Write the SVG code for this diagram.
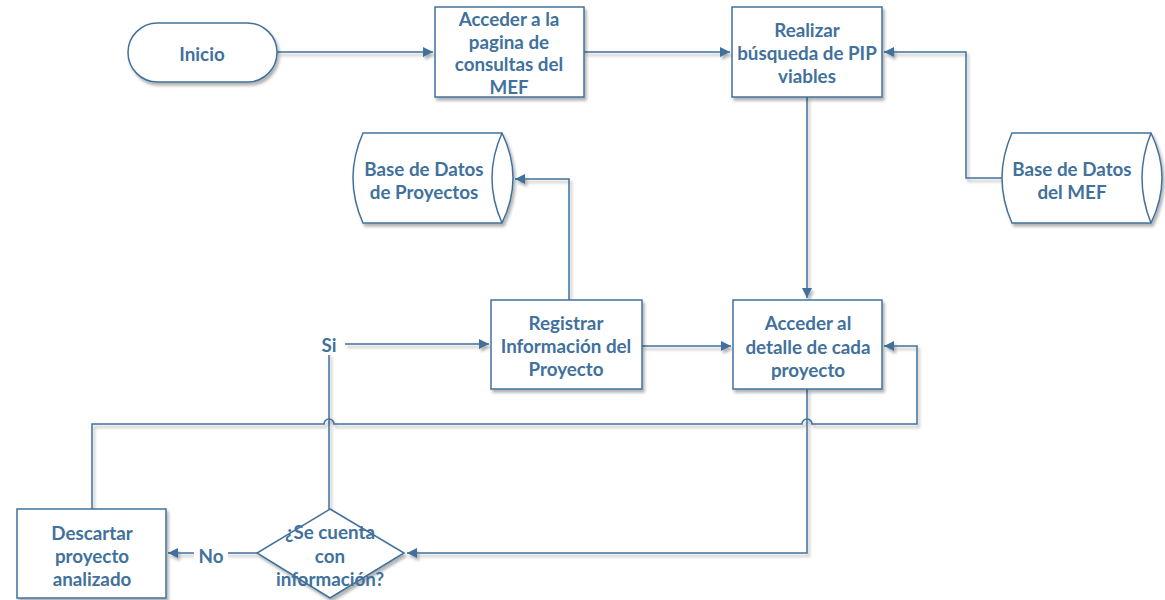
<svg xmlns="http://www.w3.org/2000/svg" width="1165" height="600" viewBox="0 0 1165 600">
<defs>
<filter id="sh" filterUnits="userSpaceOnUse" x="0" y="0" width="1165" height="600">
<feDropShadow dx="2" dy="3" stdDeviation="1.5" flood-color="#000" flood-opacity="0.3"/>
</filter>
<marker id="arr" viewBox="0 0 10 10" refX="10" refY="5" markerWidth="10" markerHeight="10" markerUnits="userSpaceOnUse" orient="auto">
<path d="M0,0 L10,5 L0,10 Z" fill="#41719C"/>
</marker>
<style>
.n{fill:#fff;stroke:#41719C;stroke-width:1.5;filter:url(#sh)}
.t{font-family:Lato,"Open Sans",sans-serif;font-weight:bold;font-size:18.8px;fill:#41719C;text-anchor:middle;dominant-baseline:central}
.c{fill:none;stroke:#41719C;stroke-width:1.5;filter:url(#sh)}
</style>
</defs>
<g id="connectors">
<path class="c" d="M277,52 H433" marker-end="url(#arr)"/>
<path class="c" d="M584,52 H730" marker-end="url(#arr)"/>
<path class="c" d="M1002,178 H966 V52 H884" marker-end="url(#arr)"/>
<path class="c" d="M807,97 V298" marker-end="url(#arr)"/>
<path class="c" d="M569,300 V179 H515" marker-end="url(#arr)"/>
<path class="c" d="M642,346 H731" marker-end="url(#arr)"/>
<path class="c" d="M345,344 H489" marker-end="url(#arr)"/>
<path class="c" d="M329,353 V509"/>
<path class="c" d="M92,509 V424 H324 A5,5 0 0 1 334,424 H802 A5,5 0 0 1 812,424 H917 V346 H884" marker-end="url(#arr)"/>
<path class="c" d="M807,389 V553 H407" marker-end="url(#arr)"/>
<path class="c" d="M257,553 H168" marker-end="url(#arr)"/>
<rect x="194" y="543" width="34" height="22" fill="#fff"/>
<text class="t" x="211" y="555">No</text>
<rect x="318" y="333" width="22" height="22" fill="#fff"/>
<text class="t" x="329" y="344">Si</text>
</g>
<g id="inicio">
<rect class="n" x="128" y="23" width="149" height="59" rx="29.5"/>
<text class="t" x="202" y="53">Inicio</text>
</g>
<g id="acceder-pagina">
<rect class="n" x="435" y="7" width="149" height="90"/>
<text class="t" x="509" y="18">Acceder a la</text>
<text class="t" x="509" y="41">pagina de</text>
<text class="t" x="509" y="63">consultas del</text>
<text class="t" x="509" y="86">MEF</text>
</g>
<g id="realizar-busqueda">
<rect class="n" x="732" y="7" width="150" height="90"/>
<text class="t" x="807" y="29">Realizar</text>
<text class="t" x="807" y="52">búsqueda de PIP</text>
<text class="t" x="807" y="75">viables</text>
</g>
<g id="bd-mef">
<path class="n" d="M1012,133 L1151,133 Q1173,178 1151,223 L1012,223 Q992,178 1012,133 Z"/>
<path fill="none" stroke="#41719C" stroke-width="1.5" d="M1151,133 Q1133,178 1151,223"/>
<text class="t" x="1072" y="168">Base de Datos</text>
<text class="t" x="1072" y="191">del MEF</text>
</g>
<g id="bd-proyectos">
<path class="n" d="M363,133 L502,133 Q524,178 502,223 L363,223 Q343,178 363,133 Z"/>
<path fill="none" stroke="#41719C" stroke-width="1.5" d="M502,133 Q482,178 502,223"/>
<text class="t" x="424" y="168">Base de Datos</text>
<text class="t" x="424" y="191">de Proyectos</text>
</g>
<g id="registrar">
<rect class="n" x="491" y="300" width="151" height="89"/>
<text class="t" x="566" y="322">Registrar</text>
<text class="t" x="566" y="345">Información del</text>
<text class="t" x="566" y="368">Proyecto</text>
</g>
<g id="acceder-detalle">
<rect class="n" x="733" y="300" width="149" height="89"/>
<text class="t" x="808" y="322">Acceder al</text>
<text class="t" x="808" y="346">detalle de cada</text>
<text class="t" x="808" y="369">proyecto</text>
</g>
<g id="decision">
<path class="n" d="M330,509 L404,553 L330,598 L257,553 Z"/>
<text class="t" x="330" y="531">¿Se cuenta</text>
<text class="t" x="330" y="555">con</text>
<text class="t" x="330" y="578">información?</text>
</g>
<g id="descartar">
<rect class="n" x="17" y="509" width="149" height="89"/>
<text class="t" x="92" y="532">Descartar</text>
<text class="t" x="92" y="555">proyecto</text>
<text class="t" x="92" y="578">analizado</text>
</g>
</svg>
